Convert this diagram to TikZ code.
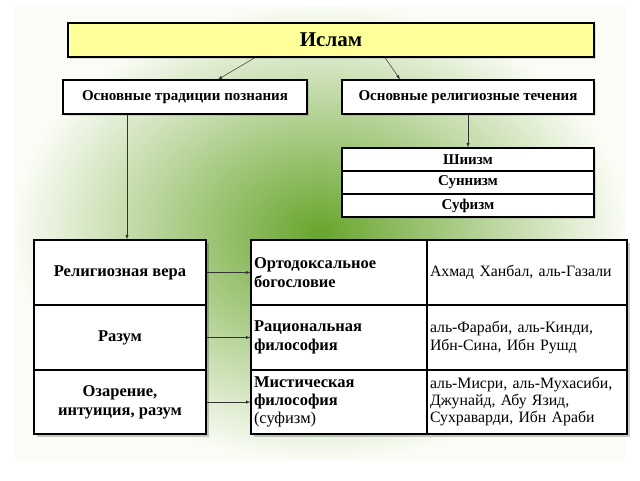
\documentclass[tikz,border=0pt]{standalone}
\usepackage{fontspec}
\setmainfont{Liberation Serif}
\usetikzlibrary{shadows}
\begin{document}
\begin{tikzpicture}[x=1pt,y=-1pt,
  box/.style={draw=black,line width=1.2pt,fill=white,inner sep=2pt,drop shadow={shadow xshift=2pt,shadow yshift=-2pt,opacity=0.25}},
  cell/.style={draw=black,line width=1.2pt,fill=white,inner sep=0pt},
  arr/.style={-latex,line width=0.5pt,draw=black!80}]
\useasboundingbox (0,0) rectangle (640,480);
\fill[white] (0,0) rectangle (640,480);
\shade[inner color={rgb,255:red,105;green,165;blue,45},outer color={rgb,255:red,250;green,252;blue,245}] (15,5) rectangle (625,460);
% top
\node[box,fill={rgb,255:red,255;green,255;blue,153},minimum width=526pt,minimum height=34pt,font=\bfseries\fontsize{21}{24}\selectfont] (islam) at (331,40) {Ислам};
\node[box,minimum width=244pt,minimum height=34pt,font=\bfseries\fontsize{15}{17}\selectfont] (trad) at (185,97) {Основные традиции познания};
\node[box,minimum width=252pt,minimum height=34pt,font=\bfseries\fontsize{15}{17}\selectfont] (rel) at (468,97) {Основные религиозные течения};
\node[box,minimum width=252pt,minimum height=23pt,font=\bfseries\fontsize{15}{17}\selectfont] (shia) at (468,159.5) {Шиизм};
\node[box,minimum width=252pt,minimum height=23pt,font=\bfseries\fontsize{15}{17}\selectfont] (sunna) at (468,182.5) {Суннизм};
\node[box,minimum width=252pt,minimum height=23pt,font=\bfseries\fontsize{15}{17}\selectfont] (sufi) at (468,205.5) {Суфизм};
% shadows
\fill[black,opacity=0.2] (37,243) rectangle (209,437);
\fill[black,opacity=0.2] (254,243) rectangle (630,437);
% left column
\node[cell,minimum width=172pt,minimum height=65pt,align=center,font=\bfseries\fontsize{16.5}{19}\selectfont] (vera) at (120,272.5) {Религиозная вера};
\node[cell,minimum width=172pt,minimum height=65pt,align=center,font=\bfseries\fontsize{16.5}{19}\selectfont] (razum) at (120,337.5) {Разум};
\node[cell,minimum width=172pt,minimum height=64pt,align=center,font=\bfseries\fontsize{16.5}{19}\selectfont] (ozar) at (120,402) {Озарение,\\интуиция, разум};
% table
\node[cell,minimum width=176pt,minimum height=65pt,text width=170pt,align=left,font=\bfseries\fontsize{16.5}{19}\selectfont] (orth) at (339,272.5) {Ортодоксальное\\богословие};
\node[cell,minimum width=176pt,minimum height=65pt,text width=170pt,align=left,font=\bfseries\fontsize{16.5}{19}\selectfont] (rat) at (339,337.5) {Рациональная\\философия};
\node[cell,minimum width=176pt,minimum height=64pt,text width=170pt,align=left,font=\fontsize{16.5}{18}\selectfont] (myst) at (339,402) {\textbf{Мистическая}\\\textbf{философия}\\(суфизм)};
\node[cell,minimum width=200pt,minimum height=65pt,text width=194pt,align=left,font=\fontsize{15.8}{18}\selectfont] (n1) at (527,272.5) {Ахмад Ханбал, аль-Газали};
\node[cell,minimum width=200pt,minimum height=65pt,text width=194pt,align=left,font=\fontsize{15.8}{18}\selectfont] (n2) at (527,337.5) {аль-Фараби, аль-Кинди,\\Ибн-Сина, Ибн Рушд};
\node[cell,minimum width=200pt,minimum height=64pt,text width=194pt,align=left,font=\fontsize{15.8}{17}\selectfont] (n3) at (527,402) {аль-Мисри, аль-Мухасиби,\\Джунайд, Абу Язид,\\Сухраварди, Ибн Араби};
% arrows
\draw[arr] (islam.south -| 255,0) -- (trad.north -| 218,0);
\draw[arr] (islam.south -| 385,0) -- (rel.north -| 400,0);
\draw[arr] (rel.south) -- (shia.north);
\draw[arr] (trad.south -| 127,0) -- (vera.north -| 127,0);
\draw[arr] (vera.east) -- (orth.west);
\draw[arr] (razum.east) -- (rat.west);
\draw[arr] (ozar.east) -- (myst.west);
\end{tikzpicture}
\end{document}
